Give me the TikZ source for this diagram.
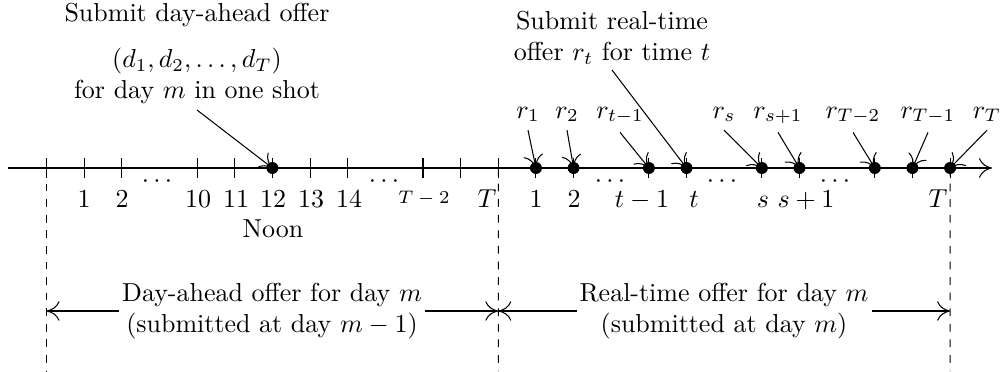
\documentclass[tikz,border=0pt]{standalone}
\usetikzlibrary{arrows.meta,calc}
\begin{document}
\begin{tikzpicture}[x=0.385pt,y=-0.385pt,
  >={Computer Modern Rightarrow[length=5pt,width=7.5pt]},
  dot/.style={circle,fill,inner sep=0pt,minimum size=4.6pt},
  numlab/.style={inner sep=0pt,anchor=base},
  rlab/.style={anchor=base,inner sep=3pt},
  toplab/.style={align=center,inner sep=2pt,anchor=south},
  botlab/.style={align=center,inner xsep=1pt,inner ysep=0pt},
  dotslab/.style={inner sep=0pt}]
\useasboundingbox (0,0) rectangle (1007,371);

% axis
\coordinate (aL) at (8,168);
\coordinate (aR) at (992,168);
\draw[->] (aL) -- (aR);

% positions and ticks
\foreach \k in {0,1,2,4,5,6,7,8,10,11,12,13,14,16,17,19,20,22,23,24}{
  \coordinate (p\k) at ({46.5+37.65*\k},168);
  \draw ($(p\k)+(0,-10)$) -- ($(p\k)+(0,10)$);
}

% dashed verticals
\coordinate (vL) at (46.5,371);
\coordinate (vM) at (498.3,371);
\coordinate (vR) at (950.1,371);
\draw[dashed] (p0) -- (vL);
\draw[dashed] (p12) -- (vM);
\draw[dashed] (p24) -- (vR);

% labels below axis (left day)
\node[numlab] (l1) at (84,207) {1};
\node[numlab] (l2) at (122,207) {2};
\node[numlab] (l10) at (198,207) {10};
\node[numlab] (l11) at (236,207) {11};
\node[numlab] (l12) at (273,207) {12};
\node[numlab] (l13) at (311,207) {13};
\node[numlab] (l14) at (349,207) {14};
\node[numlab,font=\scriptsize] (lT2) at (424,203) {$T-2$};
\node[numlab,anchor=base east] (lT) at (497,207) {$T$};
\node[dotslab] (c1) at (157,182) {$\cdots$};
\node[dotslab] (c2) at (384,182) {$\cdots$};
\node (noon) [anchor=base,inner sep=0pt] at (273,237) {Noon};

% labels below axis (right day)
\node[numlab] (q1) at (536,207) {1};
\node[numlab] (q2) at (574,207) {2};
\node[numlab] (qt1) at (642,207) {$t-1$};
\node[numlab] (qt) at (694,207) {$t$};
\node[numlab] (qs) at (763,207) {$s$};
\node[numlab] (qs1) at (806,207) {$s+1$};
\node[numlab,anchor=base east] (qT) at (948,207) {$T$};
\node[dotslab] (c3) at (610,182) {$\cdots$};
\node[dotslab] (c4) at (722,182) {$\cdots$};
\node[dotslab] (c5) at (835,182) {$\cdots$};

% r labels
\node[rlab] (r1) at (528,118) {$r_1$};
\node[rlab] (r2) at (567,118) {$r_2$};
\node[rlab] (rt1) at (620,118) {$r_{t-1}$};
\node[rlab] (rs) at (724,118) {$r_s$};
\node[rlab] (rs1) at (778,118) {$r_{s+1}$};
\node[rlab] (rT2) at (853,118) {$r_{T-2}$};
\node[rlab] (rT1) at (928,118) {$r_{T-1}$};
\node[rlab] (rT) at (987,118) {$r_T$};

% top labels
\node[toplab] (tl) at (197,110) {Submit day-ahead offer\\[6pt]$(d_1,d_2,\ldots,d_T)$\\for day $m$ in one shot};
\node[toplab] (tr) at (612,70) {Submit real-time\\offer $r_t$ for time $t$};

% arrows to dots
\draw[->] (tl.south) -- (p6);
\draw[->] (tr.south) -- (p17);
\draw[->] (r1.south) -- (p13);
\draw[->] (r2.south) -- (p14);
\draw[->] (rt1.south) -- (p16);
\draw[->] (rs.south) -- (p19);
\draw[->] (rs1.south) -- (p20);
\draw[->] (rT2.south) -- (p22);
\draw[->] (rT1.south) -- (p23);
\draw[->] (rT.south) -- (p24);

% dots
\foreach \k in {6,13,14,16,17,19,20,22,23,24}{
  \node[dot] (d\k) at (p\k) {};
}

% bottom spans
\node[botlab] (bl) at (272,311) {Day-ahead offer for day $m$\\(submitted at day $m-1$)};
\node[botlab] (br) at (724,311) {Real-time offer for day $m$\\(submitted at day $m$)};
\draw[->] (bl.west) -- (bl.west -| vL);
\draw[->] (bl.east) -- (bl.east -| vM);
\draw[->] (br.west) -- (br.west -| vM);
\draw[->] (br.east) -- (br.east -| vR);
\end{tikzpicture}
\end{document}
